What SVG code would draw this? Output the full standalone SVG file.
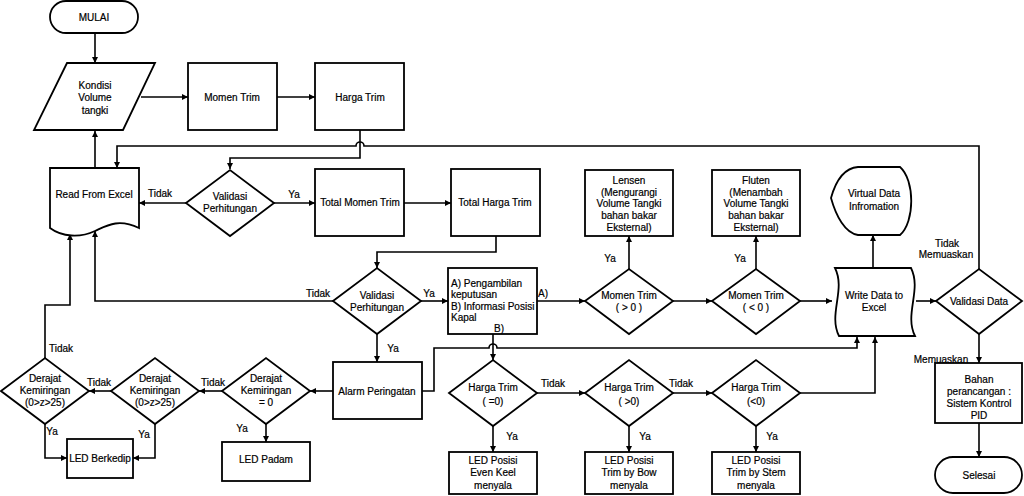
<svg xmlns="http://www.w3.org/2000/svg" width="1024" height="496" viewBox="0 0 1024 496">
<style>
.s{fill:#fff;stroke:#000;stroke-width:1.8}
.c{fill:none;stroke:#000;stroke-width:1.6;marker-end:url(#ah)}
text{font-family:"Liberation Sans",Arial,sans-serif;font-size:10px;fill:#000;stroke:#000;stroke-width:0.2}
.m{text-anchor:middle}
</style>
<defs>
<marker id="ah" viewBox="0 0 10 10" refX="10" refY="5" markerWidth="7" markerHeight="6" orient="auto" markerUnits="userSpaceOnUse"><path d="M0,0 L10,5 L0,10 z" fill="#000"/></marker>
</defs>
<rect width="1024" height="496" fill="#fff"/>
<g id="connectors">
<path class="c" d="M95,33 V63"/>
<path class="c" d="M141,97 H188"/>
<path class="c" d="M277,97 H315"/>
<path class="c" d="M360,130 V158 H230 V169"/>
<path class="c" d="M95,168 V131"/>
<path class="c" d="M186,203 H139"/>
<path class="c" d="M274,203 H315"/>
<path class="c" d="M404,203 H451"/>
<path class="c" d="M496,236 V252 H377 V268"/>
<path class="c" d="M333,301 H95 V231"/>
<path class="c" d="M421,301 H448"/>
<path class="c" d="M537,301 H585"/>
<path class="c" d="M629,269 V236"/>
<path class="c" d="M673,301 H712"/>
<path class="c" d="M756,269 V236"/>
<path class="c" d="M800,301 H832"/>
<path class="c" d="M873,268 V235"/>
<path class="c" d="M916,301 H936"/>
<path class="c" d="M979,269 V146 H364 A4,4 0 0 0 356,146 H117 V168"/>
<path class="c" d="M979,334 V363"/>
<path class="c" d="M979,423 V457"/>
<path class="c" d="M377,334 V362"/>
<path class="c" d="M422,391 H434 V348 H489 A4,4 0 0 1 497,348 H857 V337"/>
<path class="c" d="M333,391 H310"/>
<path class="c" d="M266,424 V442"/>
<path class="c" d="M222,391 H199"/>
<path class="c" d="M111,391 H89"/>
<path class="c" d="M45,358 V305 H70 V234"/>
<path class="c" d="M45,424 V458 H67"/>
<path class="c" d="M155,424 V458 H133"/>
<path class="c" d="M493,334 V360"/>
<path class="c" d="M493,426 V452"/>
<path class="c" d="M537,393 H585"/>
<path class="c" d="M629,426 V452"/>
<path class="c" d="M673,393 H712"/>
<path class="c" d="M756,426 V452"/>
<path class="c" d="M800,393 H875 V337"/>
</g>
<g id="labels">
<text class="m" x="160" y="196.5">Tidak</text>
<text class="m" x="294" y="197.5">Ya</text>
<text class="m" x="318" y="296.5">Tidak</text>
<text class="m" x="429" y="296.5">Ya</text>
<text class="m" x="543" y="296.5">A)</text>
<text class="m" x="610" y="261.5">Ya</text>
<text class="m" x="740" y="261.5">Ya</text>
<text class="m" x="947" y="246.5">Tidak</text>
<text class="m" x="946" y="258">Memuaskan</text>
<text class="m" x="941" y="362.5">Memuaskan</text>
<text class="m" x="393" y="351.5">Ya</text>
<text class="m" x="242" y="431.5">Ya</text>
<text class="m" x="213" y="385.5">Tidak</text>
<text class="m" x="99" y="385.5">Tidak</text>
<text class="m" x="61" y="351.5">Tidak</text>
<text class="m" x="52" y="434.5">Ya</text>
<text class="m" x="144" y="437.5">Ya</text>
<text class="m" x="512" y="439.5">Ya</text>
<text class="m" x="553" y="386.5">Tidak</text>
<text class="m" x="645" y="439.5">Ya</text>
<text class="m" x="681" y="386.5">Tidak</text>
<text class="m" x="772" y="439.5">Ya</text>
</g>
<g id="mulai"><rect class="s" x="50" y="1" width="88" height="32" rx="16"/><text class="m" x="94" y="20.5">MULAI</text></g>
<g id="kondisi"><polygon class="s" points="67,63 155,63 123,130 34,130"/><text class="m" x="95" y="88.5">Kondisi</text><text class="m" x="95" y="100.5">Volume</text><text class="m" x="95" y="113.5">tangki</text></g>
<g id="momen-trim"><rect class="s" x="188" y="63" width="89" height="67"/><text class="m" x="232" y="100.5">Momen Trim</text></g>
<g id="harga-trim"><rect class="s" x="315" y="63" width="89" height="67"/><text class="m" x="360" y="100.5">Harga Trim</text></g>
<g id="read-excel"><path class="s" d="M50,168 H139 V228 C118,218 106,226 95,231 C80,238 62,237 50,228 Z"/><text class="m" x="94" y="197.5">Read From Excel</text></g>
<g id="validasi1"><polygon class="s" points="186,203 230,170 274,203 230,236"/><text class="m" x="230" y="199.5">Validasi</text><text class="m" x="230" y="212">Perhitungan</text></g>
<g id="total-momen"><rect class="s" x="315" y="169" width="89" height="67"/><text class="m" x="360" y="205.5">Total Momen Trim</text></g>
<g id="total-harga"><rect class="s" x="451" y="169" width="89" height="67"/><text class="m" x="495" y="205.5">Total Harga Trim</text></g>
<g id="validasi2"><polygon class="s" points="333,301 377,268 421,301 377,334"/><text class="m" x="377" y="298.5">Validasi</text><text class="m" x="377" y="310.5">Perhitungan</text></g>
<g id="box-a"><rect class="s" x="448" y="268" width="89" height="66"/><text x="451" y="286.5">A) Pengambilan</text><text x="451" y="298">keputusan</text><text x="451" y="309.5">B) Informasi Posisi</text><text x="451" y="321">Kapal</text><text class="m" x="499" y="331.5">B)</text></g>
<g id="momen-pos"><polygon class="s" points="585,301 629,269 673,301 629,334"/><text class="m" x="629" y="298.5">Momen Trim</text><text class="m" x="629" y="310.5">( &gt; 0 )</text></g>
<g id="lensen"><rect class="s" x="585" y="170" width="88" height="66"/><text class="m" x="629" y="183.5">Lensen</text><text class="m" x="629" y="195.5">(Mengurangi</text><text class="m" x="629" y="206.5">Volume Tangki</text><text class="m" x="629" y="218.5">bahan bakar</text><text class="m" x="629" y="230.5">Eksternal)</text></g>
<g id="momen-neg"><polygon class="s" points="712,301 756,269 800,301 756,334"/><text class="m" x="756" y="298.5">Momen Trim</text><text class="m" x="756" y="310.5">( &lt; 0 )</text></g>
<g id="fluten"><rect class="s" x="712" y="170" width="88" height="66"/><text class="m" x="756" y="183.5">Fluten</text><text class="m" x="756" y="195.5">(Menambah</text><text class="m" x="756" y="206.5">Volume Tangki</text><text class="m" x="756" y="218.5">bahan bakar</text><text class="m" x="756" y="230.5">Eksternal)</text></g>
<g id="virtual"><path class="s" d="M831,198 C836,180 845,168 858,167 H900 C915,180 915,222 900,235 H858 C845,233 836,216 831,198 Z"/><text class="m" x="874" y="196.5">Virtual Data</text><text class="m" x="874" y="209.5">Infromation</text></g>
<g id="write-excel"><path class="s" d="M835,268 H911 C922,290 904,314 915,336 H839 C828,314 846,290 835,268 Z"/><text class="m" x="874" y="298.5">Write Data to</text><text class="m" x="874" y="310.5">Excel</text></g>
<g id="validasi-data"><polygon class="s" points="936,301 979,269 1022,301 979,334"/><text class="m" x="979" y="305">Validasi Data</text></g>
<g id="bahan"><rect class="s" x="935" y="363" width="87" height="60"/><text class="m" x="979" y="382.5">Bahan</text><text class="m" x="979" y="395">perancangan :</text><text class="m" x="979" y="406.5">Sistem Kontrol</text><text class="m" x="979" y="418.5">PID</text></g>
<g id="selesai"><rect class="s" x="935" y="457" width="87" height="36" rx="18"/><text class="m" x="979" y="478.5">Selesai</text></g>
<g id="alarm"><rect class="s" x="333" y="362" width="89" height="57"/><text class="m" x="377" y="394.5">Alarm Peringatan</text></g>
<g id="derajat0"><polygon class="s" points="222,391 266,358 310,391 266,424"/><text class="m" x="266" y="381.5">Derajat</text><text class="m" x="266" y="393.5">Kemiringan</text><text class="m" x="266" y="405.5">= 0</text></g>
<g id="led-padam"><rect class="s" x="222" y="442" width="88" height="39"/><text class="m" x="266" y="463">LED Padam</text></g>
<g id="derajat2"><polygon class="s" points="111,391 155,358 199,391 155,424"/><text class="m" x="155" y="381.5">Derajat</text><text class="m" x="155" y="394">Kemiringan</text><text class="m" x="155" y="405.5">(0&gt;z&gt;25)</text></g>
<g id="derajat1"><polygon class="s" points="1,391 45,358 89,391 45,424"/><text class="m" x="45" y="381.5">Derajat</text><text class="m" x="45" y="394">Kemiringan</text><text class="m" x="45" y="405.5">(0&gt;z&gt;25)</text></g>
<g id="led-berkedip"><rect class="s" x="67" y="439" width="66" height="39"/><text class="m" x="100" y="461.5">LED Berkedip</text></g>
<g id="harga-eq"><polygon class="s" points="449,393 493,360 537,393 493,426"/><text class="m" x="493" y="390.5">Harga Trim</text><text class="m" x="493" y="404.5">( =0)</text></g>
<g id="led-even"><rect class="s" x="449" y="452" width="88" height="42"/><text class="m" x="493" y="463.5">LED Posisi</text><text class="m" x="493" y="476">Even Keel</text><text class="m" x="493" y="488.5">menyala</text></g>
<g id="harga-pos"><polygon class="s" points="585,393 629,360 673,393 629,426"/><text class="m" x="629" y="390.5">Harga Trim</text><text class="m" x="629" y="404.5">( &gt;0)</text></g>
<g id="led-bow"><rect class="s" x="585" y="452" width="88" height="42"/><text class="m" x="629" y="463.5">LED Posisi</text><text class="m" x="629" y="476">Trim by Bow</text><text class="m" x="629" y="488.5">menyala</text></g>
<g id="harga-neg"><polygon class="s" points="712,393 756,360 800,393 756,426"/><text class="m" x="756" y="390.5">Harga Trim</text><text class="m" x="756" y="404.5">(&lt;0)</text></g>
<g id="led-stem"><rect class="s" x="712" y="452" width="88" height="42"/><text class="m" x="756" y="463.5">LED Posisi</text><text class="m" x="756" y="476">Trim by Stem</text><text class="m" x="756" y="488.5">menyala</text></g>
</svg>
